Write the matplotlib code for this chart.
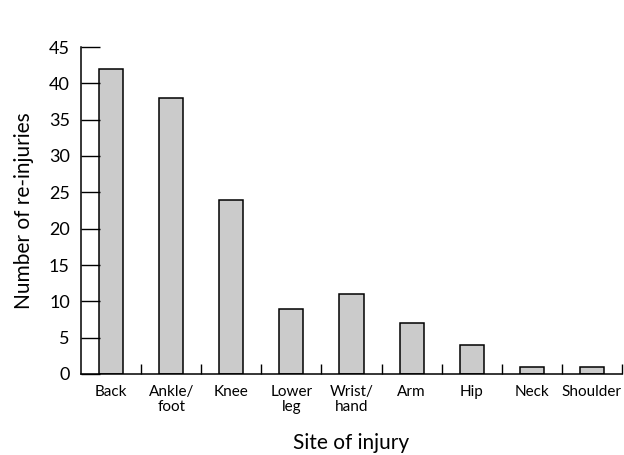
import matplotlib.pyplot as plt
import numpy as np

sites = ['Back', 'Ankle/\nfoot', 'Knee', 'Lower\nleg', 'Wrist/\nhand', 'Arm', 'Hip', 'Neck', 'Shoulder']
reinjuries = [42, 38, 24, 9, 11, 7, 4, 1, 1]

plt.rcParams['font.family'] = ['Lato', 'DejaVu Sans']

fig = plt.figure(figsize=(6.24, 4.55), dpi=100)
ax = fig.add_axes([81/624, 1-374/455, 541/624, 327/455])

x = np.arange(len(sites))
ax.bar(x, reinjuries, width=0.4, color='#cbcbcb', edgecolor='black', linewidth=1.1)

ax.set_xlim(-0.5, len(sites) - 0.5)
ax.set_ylim(0, 45)
ax.set_yticks(np.arange(0, 46, 5))
ax.set_xticks(x)
ax.set_xticklabels(sites, fontsize=11, linespacing=1.05)
ax.set_xticks(np.arange(0.5, len(sites), 1), minor=True)
ax.tick_params(axis='x', which='major', length=0, pad=8)
ax.tick_params(axis='x', which='minor', direction='in', length=7, width=1)
ax.tick_params(axis='y', direction='in', length=14, width=1, labelsize=13, pad=8)

for s in ['top', 'right']:
    ax.spines[s].set_visible(False)
for s in ['left', 'bottom']:
    ax.spines[s].set_linewidth(1.1)

ax.set_ylabel('Number of re-injuries', fontsize=15, labelpad=11)
ax.set_xlabel('Site of injury', fontsize=15, labelpad=14)

fig.savefig('out.png', dpi=100)
